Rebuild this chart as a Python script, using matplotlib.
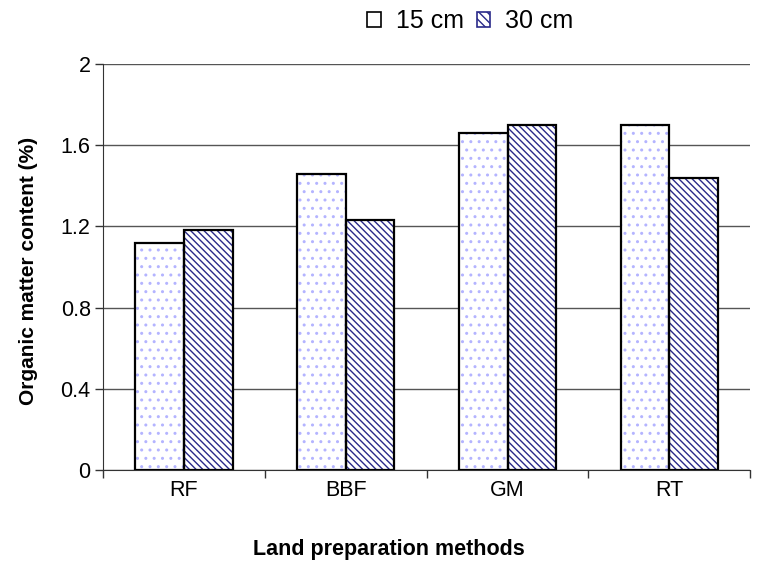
import matplotlib.pyplot as plt
import numpy as np
from matplotlib.patches import Patch

plt.rcParams['font.family'] = ['Liberation Sans', 'DejaVu Sans']
plt.rcParams['hatch.linewidth'] = 1.0

# data
methods = ['RF', 'BBF', 'GM', 'RT']
depth_15 = [1.12, 1.46, 1.66, 1.70]
depth_30 = [1.18, 1.23, 1.70, 1.44]
series_names = ['15 cm', '30 cm']

fig = plt.figure(figsize=(7.64, 5.65), dpi=100)
ax = fig.add_axes([0.135, 0.168, 0.847, 0.719])

x = np.arange(len(methods))
w = 0.3

# hatched fill first, then black outlines on top
ax.bar(x - w/2, depth_15, w, color='white', edgecolor='#b4b4ff', hatch='..', linewidth=0, zorder=2)
ax.bar(x + w/2, depth_30, w, color='white', edgecolor='#2a2a8a', hatch='\\' * 5, linewidth=0, zorder=2)
ax.bar(x - w/2, depth_15, w, fill=False, edgecolor='black', linewidth=1.6, zorder=3)
ax.bar(x + w/2, depth_30, w, fill=False, edgecolor='black', linewidth=1.6, zorder=3)

ax.set_xlim(-0.5, len(methods) - 0.5)
ax.set_ylim(0, 2)
ax.set_yticks([0, 0.4, 0.8, 1.2, 1.6, 2])
ax.set_yticklabels(['0', '0.4', '0.8', '1.2', '1.6', '2'])
ax.yaxis.grid(True, color='#555555', linewidth=1.0, zorder=0)
ax.set_axisbelow(True)

ax.set_xticks(np.arange(len(methods) + 1) - 0.5)
ax.set_xticklabels([])
ax.set_xticks(x, minor=True)
ax.set_xticklabels(methods, minor=True)
ax.tick_params(axis='x', which='minor', length=0, pad=7, labelsize=15.5)
ax.tick_params(axis='x', which='major', length=6, width=1, color='#333333')
ax.tick_params(axis='y', length=6, width=1, color='#333333', labelsize=15.5, pad=3)

for s in ['top', 'right']:
    ax.spines[s].set_visible(False)
for s in ['left', 'bottom']:
    ax.spines[s].set_color('#333333')

ax.set_ylabel('Organic matter content (%)', fontsize=15, fontweight='bold')
ax.yaxis.set_label_coords(-0.101, 0.49)
ax.set_xlabel('Land preparation methods', fontsize=15.5, fontweight='bold')
ax.xaxis.set_label_coords(0.442, -0.17)

handles = [Patch(facecolor='white', edgecolor='black', linewidth=1.2),
           Patch(facecolor='white', edgecolor='#2a2a8a', hatch='\\' * 4, linewidth=1.2)]
fig.legend(handles, series_names, loc='center left', bbox_to_anchor=(0.481, 0.963),
           ncol=2, frameon=False, fontsize=18, handlelength=0.55, handleheight=0.55,
           handletextpad=0.6, columnspacing=0.5, borderpad=0, borderaxespad=0)

fig.savefig('out.png', dpi=100)
